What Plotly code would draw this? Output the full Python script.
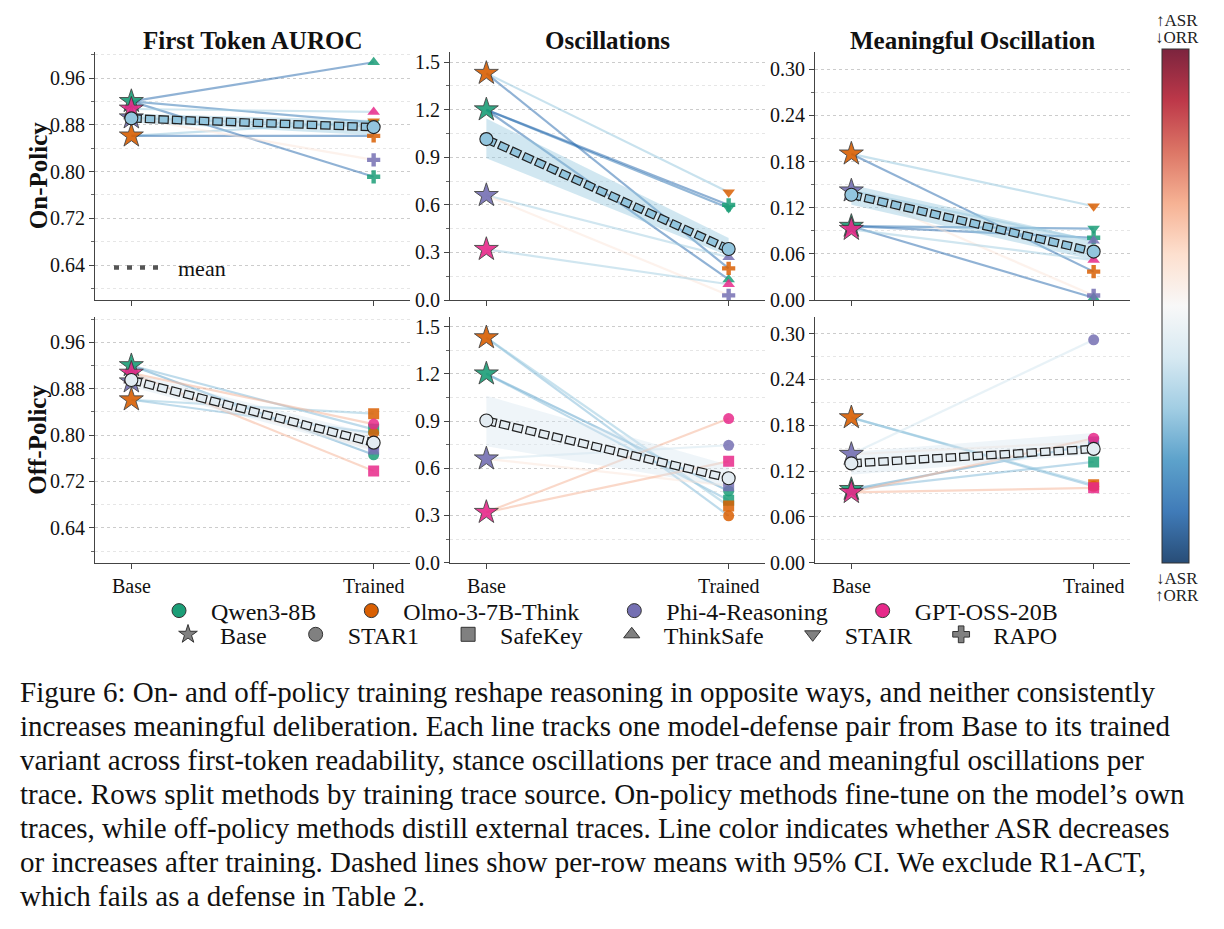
import plotly.graph_objects as go

W, H = 1224, 929
SERIF = "Liberation Serif"

# ---------------- data ----------------
MODELS = ["Qwen3-8B", "Olmo-3-7B-Think", "Phi-4-Reasoning", "GPT-OSS-20B"]
DEFENSES = ["Base", "STAR1", "SafeKey", "ThinkSafe", "STAIR", "RAPO"]
METRICS = ["First Token AUROC", "Oscillations", "Meaningful Oscillation"]
ROWS = ["On-Policy", "Off-Policy"]
STAGES = ["Base", "Trained"]

# base model values (per model, same order as MODELS)
base_auroc = [0.920, 0.861, 0.892, 0.907]
base_osc = [1.20, 1.43, 0.66, 0.32]
base_mosc = [0.096, 0.190, 0.142, 0.092]

# on-policy pairs
on_model = ["Qwen3-8B", "Qwen3-8B", "Qwen3-8B", "Olmo-3-7B-Think", "Olmo-3-7B-Think",
            "Phi-4-Reasoning", "Phi-4-Reasoning", "GPT-OSS-20B"]
on_defense = ["ThinkSafe", "STAIR", "RAPO", "STAIR", "RAPO", "ThinkSafe", "RAPO", "ThinkSafe"]
on_auroc = [0.987, 0.884, 0.791, 0.886, 0.861, 0.877, 0.820, 0.902]
on_osc = [0.13, 0.58, 0.60, 0.68, 0.20, 0.27, 0.03, 0.10]
on_mosc = [0.003, 0.093, 0.081, 0.122, 0.037, 0.077, 0.006, 0.052]
on_asr_change = [-0.80, -0.75, -0.80, -0.40, -0.80, -0.35, 0.12, -0.35]

# off-policy pairs
off_model = ["Qwen3-8B", "Qwen3-8B", "Olmo-3-7B-Think", "Olmo-3-7B-Think",
             "Phi-4-Reasoning", "Phi-4-Reasoning", "GPT-OSS-20B", "GPT-OSS-20B"]
off_defense = ["STAR1", "SafeKey", "STAR1", "SafeKey", "STAR1", "SafeKey", "STAR1", "SafeKey"]
off_auroc = [0.766, 0.810, 0.804, 0.837, 0.780, 0.776, 0.819, 0.738]
off_osc = [0.456, 0.396, 0.298, 0.360, 0.746, 0.489, 0.916, 0.644]
off_mosc = [0.155, 0.132, 0.100, 0.102, 0.292, 0.158, 0.163, 0.098]
off_asr_change = [-0.55, -0.45, -0.45, -0.40, -0.20, 0.12, 0.35, 0.35]

# per-row means with 95% CI (per metric)
on_mean_base = [0.891, 1.015, 0.137]
on_mean_trained = [0.876, 0.322, 0.063]
on_ci_base = [[0.884, 0.899], [0.894, 1.145], [0.124, 0.150]]
on_ci_trained = [[0.862, 0.888], [0.278, 0.392], [0.052, 0.078]]
off_mean_base = [0.895, 0.903, 0.130]
off_mean_trained = [0.787, 0.536, 0.149]
off_ci_base = [[0.883, 0.907], [0.74, 1.06], [0.115, 0.145]]
off_ci_trained = [[0.772, 0.802], [0.48, 0.62], [0.142, 0.170]]

CAPTION = [
    "Figure 6: On- and off-policy training reshape reasoning in opposite ways, and neither consistently",
    "increases meaningful deliberation. Each line tracks one model-defense pair from Base to its trained",
    "variant across first-token readability, stance oscillations per trace and meaningful oscillations per",
    "trace. Rows split methods by training trace source. On-policy methods fine-tune on the model\u2019s own",
    "traces, while off-policy methods distill external traces. Line color indicates whether ASR decreases",
    "or increases after training. Dashed lines show per-row means with 95% CI. We exclude R1-ACT,",
    "which fails as a defense in Table 2.",
]

# ---------------- styles ----------------
MODEL_COLORS = ["#1b9e77", "#d95f02", "#7570b3", "#e7298a"]
DEF_SYMBOLS = ["star", "circle", "square", "triangle-up", "triangle-down", "cross"]
MEAN_COLORS = ["#92c5de", "#e3ecf2"]
BAND_COLORS = ["rgba(146,197,222,0.42)", "rgba(214,230,240,0.40)"]
CMAP = ["#053061", "#2166ac", "#4393c3", "#92c5de", "#d1e5f0", "#f7f7f7",
        "#fddbc7", "#f4a582", "#d6604d", "#b2182b", "#67001f"]

COL_X = [(95, 410), (450, 765), (815, 1130)]
ROW_Y = [(52, 303), (320, 569)]
Y_SPECS = [
    dict(range=[0.58, 1.004], tick0=0.64, dtick=0.08, mtick0=0.60, mdtick=0.04, fmt=".2f"),
    dict(range=[0, 1.562], tick0=0, dtick=0.3, mtick0=0, mdtick=0.15, fmt=".1f"),
    dict(range=[0, 0.322], tick0=0, dtick=0.06, mtick0=0, mdtick=0.03, fmt=".2f"),
]


def hex2rgb(h):
    h = h.lstrip("#")
    return [int(h[i:i + 2], 16) for i in (0, 2, 4)]


def cmap_rgb(v):
    t = min(max((v + 1) / 2, 0), 1) * 10
    i = min(int(t), 9)
    f = t - i
    a, b = hex2rgb(CMAP[i]), hex2rgb(CMAP[i + 1])
    return [round(a[k] + (b[k] - a[k]) * f) for k in range(3)]


def px_x(p):
    return p / W


def px_y(p):
    return 1 - p / H


base_table = {METRICS[0]: base_auroc, METRICS[1]: base_osc, METRICS[2]: base_mosc}
rows_data = [
    dict(model=on_model, defense=on_defense, asr=on_asr_change,
         vals={METRICS[0]: on_auroc, METRICS[1]: on_osc, METRICS[2]: on_mosc},
         mb=on_mean_base, mt=on_mean_trained, cb=on_ci_base, ct=on_ci_trained),
    dict(model=off_model, defense=off_defense, asr=off_asr_change,
         vals={METRICS[0]: off_auroc, METRICS[1]: off_osc, METRICS[2]: off_mosc},
         mb=off_mean_base, mt=off_mean_trained, cb=off_ci_base, ct=off_ci_trained),
]

fig = go.Figure()
layout_axes = {}

for r in range(2):
    rd = rows_data[r]
    for c, metric in enumerate(METRICS):
        k = r * 3 + c + 1
        xr = "x" if k == 1 else f"x{k}"
        yr = "y" if k == 1 else f"y{k}"
        common = dict(xaxis=xr, yaxis=yr, showlegend=False, hoverinfo="skip")
        bvals = base_table[metric]
        tvals = rd["vals"][metric]

        # pair lines
        for i, m in enumerate(rd["model"]):
            mi = MODELS.index(m)
            rgb = cmap_rgb(rd["asr"][i])
            fig.add_trace(go.Scatter(
                x=STAGES, y=[bvals[mi], tvals[i]], mode="lines",
                line=dict(color=f"rgba({rgb[0]},{rgb[1]},{rgb[2]},0.5)", width=2.2),
                **common))

        # CI band
        fig.add_trace(go.Scatter(
            x=[STAGES[0], STAGES[1], STAGES[1], STAGES[0]],
            y=[rd["cb"][c][0], rd["ct"][c][0], rd["ct"][c][1], rd["cb"][c][1]],
            mode="lines", fill="toself", fillcolor=BAND_COLORS[r],
            line=dict(width=0, color="rgba(0,0,0,0)"), **common))

        # trained markers
        for i, m in enumerate(rd["model"]):
            mi = MODELS.index(m)
            di = DEFENSES.index(rd["defense"][i])
            fig.add_trace(go.Scatter(
                x=[STAGES[1]], y=[tvals[i]], mode="markers",
                marker=dict(symbol=DEF_SYMBOLS[di], size=11, color=MODEL_COLORS[mi],
                            opacity=0.85, line=dict(width=0)),
                **common))

        # base stars (models present in the row)
        for mi, m in enumerate(MODELS):
            if m in rd["model"]:
                fig.add_trace(go.Scatter(
                    x=[STAGES[0]], y=[bvals[mi]], mode="markers",
                    marker=dict(symbol="star", size=18, color=MODEL_COLORS[mi],
                                opacity=0.9, line=dict(width=0.9, color="#333333")),
                    **common))

        # mean dashed line (outlined)
        my = [rd["mb"][c], rd["mt"][c]]
        fig.add_trace(go.Scatter(
            x=STAGES, y=my, mode="lines",
            line=dict(color="#222222", width=8.5, dash="10.5px,3px"), **common))
        fig.add_trace(go.Scatter(
            x=STAGES, y=my, mode="lines",
            line=dict(color=MEAN_COLORS[r], width=6, dash="0px,1.2px,8.1px,4.2px"), **common))
        fig.add_trace(go.Scatter(
            x=STAGES, y=my, mode="markers",
            marker=dict(symbol="circle", size=13, color=MEAN_COLORS[r],
                        line=dict(width=1.1, color="#222222")), **common))

        ys = Y_SPECS[c]
        layout_axes["xaxis" if k == 1 else f"xaxis{k}"] = dict(
            domain=[px_x(COL_X[c][0]), px_x(COL_X[c][1])], anchor=yr,
            type="category", categoryorder="array", categoryarray=STAGES,
            range=[-0.15, 1.15], showline=True, linecolor="#444", linewidth=1.2,
            ticks="outside", ticklen=5, tickcolor="#444", showgrid=False, zeroline=False,
            showticklabels=(r == 1), tickfont=dict(family=SERIF, size=20, color="#111"))
        layout_axes["yaxis" if k == 1 else f"yaxis{k}"] = dict(
            domain=[px_y(ROW_Y[r][1]), px_y(ROW_Y[r][0])], anchor=xr,
            range=ys["range"], tick0=ys["tick0"], dtick=ys["dtick"], tickformat=ys["fmt"],
            showline=True, linecolor="#444", linewidth=1.2, ticks="outside", ticklen=5,
            tickcolor="#444", zeroline=False, showgrid=True, gridcolor="#cccccc",
            griddash="dot", gridwidth=1,
            minor=dict(tick0=ys["mtick0"], dtick=ys["mdtick"], showgrid=True,
                       gridcolor="#e6e6e6", griddash="dot", ticks="outside", ticklen=3,
                       tickcolor="#666"),
            tickfont=dict(family=SERIF, size=20, color="#111"))

# colorbar carrier
cb_scale = []
for i, h in enumerate(CMAP):
    rgb = hex2rgb(h)
    a = 0.86
    mix = [round(rgb[j] * a + 255 * (1 - a)) for j in range(3)]
    cb_scale.append([i / 10, f"rgb({mix[0]},{mix[1]},{mix[2]})"])
fig.add_trace(go.Scatter(
    x=[None], y=[None], mode="markers", showlegend=False, hoverinfo="skip",
    marker=dict(color=[0], cmin=-1, cmax=1, colorscale=cb_scale, showscale=True,
                colorbar=dict(thickness=27, thicknessmode="pixels", len=514, lenmode="pixels",
                              x=px_x(1162), xanchor="left", xpad=0,
                              y=px_y(309), yanchor="middle", ypad=0,
                              showticklabels=False, ticks="", outlinewidth=1,
                              outlinecolor="#333")),
    xaxis="x", yaxis="y"))

# legend carriers
NB = "\u00a0"
for mi, m in enumerate(MODELS):
    fig.add_trace(go.Scatter(
        x=[None], y=[None], mode="markers", name=NB * 2 + m + NB * 5, legend="legend",
        marker=dict(symbol="circle", size=14, color=MODEL_COLORS[mi],
                    line=dict(width=1, color="#333")),
        xaxis="x", yaxis="y"))
for di, d in enumerate(DEFENSES):
    fig.add_trace(go.Scatter(
        x=[None], y=[None], mode="markers", name=NB * 2 + d + NB * 4, legend="legend2",
        marker=dict(symbol=DEF_SYMBOLS[di], size=14, color="#808080",
                    line=dict(width=1, color="#333")),
        xaxis="x", yaxis="y"))

annotations = []
# column titles
for c, metric in enumerate(METRICS):
    annotations.append(dict(
        text=f"<b>{metric}</b>", x=px_x((COL_X[c][0] + COL_X[c][1]) / 2), y=px_y(40),
        xref="paper", yref="paper", showarrow=False, xanchor="center", yanchor="middle",
        font=dict(family=SERIF, size=25, color="#111")))
# row labels
for r, lab in enumerate(ROWS):
    annotations.append(dict(
        text=f"<b>{lab}</b>", x=px_x(38), y=px_y((ROW_Y[r][0] + ROW_Y[r][1]) / 2),
        xref="paper", yref="paper", showarrow=False, textangle=-90,
        xanchor="center", yanchor="middle", font=dict(family=SERIF, size=25, color="#111")))
# mean key
annotations.append(dict(
    text="mean", x=px_x(176), y=px_y(271), xref="paper", yref="paper", showarrow=False,
    xanchor="left", yanchor="middle", font=dict(family=SERIF, size=22, color="#111")))
# colorbar labels
for txt, yy in [("\u2191ASR", 20), ("\u2193ORR", 37), ("\u2193ASR", 585), ("\u2191ORR", 602)]:
    annotations.append(dict(
        text=txt, x=px_x(1177), y=px_y(yy), xref="paper", yref="paper",
        showarrow=False, xanchor="center", yanchor="middle",
        font=dict(family=SERIF, size=17, color="#222")))
# caption
for i, line in enumerate(CAPTION):
    annotations.append(dict(
        text=line, x=px_x(18), y=px_y(700 + i * 34.4), xref="paper", yref="paper",
        showarrow=False, xanchor="left", yanchor="middle",
        font=dict(family=SERIF, size=29, color="#111")))

shapes = [dict(type="line", xref="paper", yref="paper",
               x0=px_x(114), x1=px_x(162), y0=px_y(270), y1=px_y(270),
               line=dict(color="#555", width=4.5, dash="5px,8px"))]

fig.update_layout(
    width=W, height=H, margin=dict(l=0, r=0, t=0, b=0),
    paper_bgcolor="white", plot_bgcolor="white",
    font=dict(family=SERIF, color="#111"),
    annotations=annotations, shapes=shapes,
    legend=dict(orientation="h", x=px_x(178 - 19), y=px_y(618), xanchor="left",
                yanchor="middle", font=dict(family=SERIF, size=24, color="#111"),
                bgcolor="rgba(0,0,0,0)", itemclick=False, itemdoubleclick=False),
    legend2=dict(orientation="h", x=px_x(187 - 19), y=px_y(642), xanchor="left",
                 yanchor="middle", font=dict(family=SERIF, size=24, color="#111"),
                 bgcolor="rgba(0,0,0,0)", itemclick=False, itemdoubleclick=False),
    **layout_axes,
)

fig.write_html("out.html")
